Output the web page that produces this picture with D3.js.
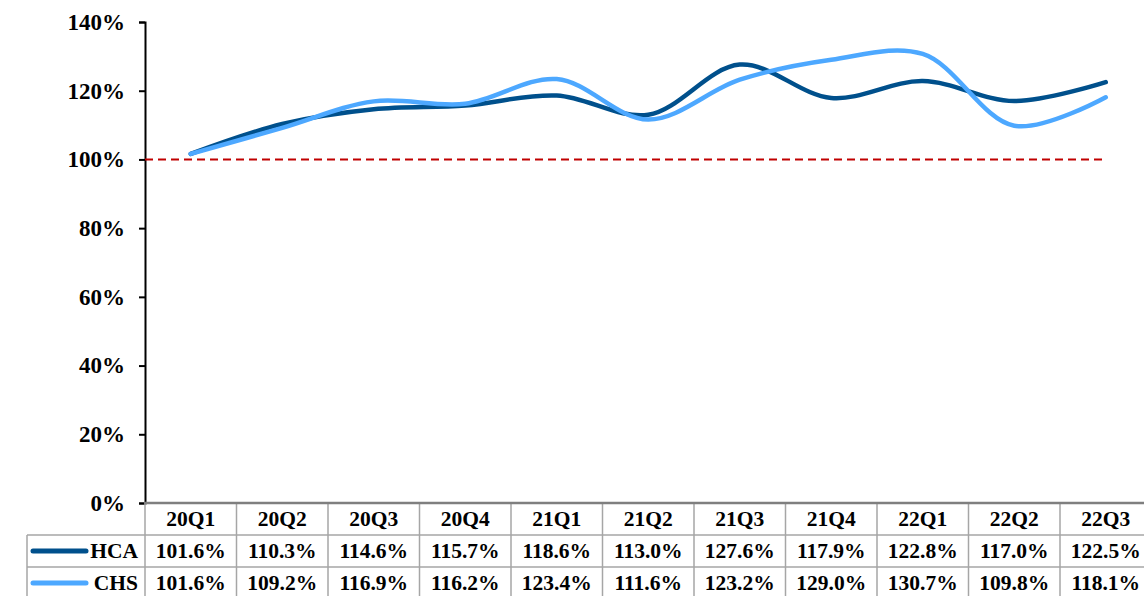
<!DOCTYPE html>
<html><head><meta charset="utf-8">
<script src="https://cdn.jsdelivr.net/npm/d3@7"></script>
<style>
html,body{margin:0;padding:0;background:#fff;}
svg{display:block;font-family:"Liberation Serif","Times New Roman",serif;font-weight:bold;}
</style></head>
<body><svg id="c" width="1144" height="596"></svg>
<script>
const categories = ["20Q1","20Q2","20Q3","20Q4","21Q1","21Q2","21Q3","21Q4","22Q1","22Q2","22Q3"];
const hca = [101.6,110.3,114.6,115.7,118.6,113.0,127.6,117.9,122.8,117.0,122.5];
const chs = [101.6,109.2,116.9,116.2,123.4,111.6,123.2,129.0,130.7,109.8,118.1];
const yTicks = [0,20,40,60,80,100,120,140];
const refValue = 100;
const seriesNames = ["HCA","CHS"];
const seriesColors = ["#00508C","#4DA8FF"];
const seriesData = [hca, chs];

(function(){
const svg = d3.select("#c");
const pLeft = 145, pTop = 22, pBottom = 503, colW = 91.5;
const pRight = pLeft + colW * categories.length;

const x = d3.scaleBand().domain(categories).range([pLeft, pRight]).padding(0);
const y = d3.scaleLinear().domain([0,140]).range([pBottom, pTop]);

const yAxis = d3.axisLeft(y).tickValues(yTicks).tickFormat(d => d + "%").tickSize(6).tickPadding(14);
const ga = svg.append("g").attr("transform", `translate(${pLeft},0)`).call(yAxis);
ga.select(".domain").attr("stroke","#000").attr("stroke-width",2);
ga.selectAll(".tick line").attr("stroke","#000").attr("stroke-width",2);
ga.selectAll(".tick text").attr("font-size",23).attr("font-family","Liberation Serif").attr("font-weight","bold").attr("fill","#000");

svg.append("line")
  .attr("x1", pLeft).attr("x2", x(categories[categories.length-1]) + x.bandwidth()/2)
  .attr("y1", y(refValue)).attr("y2", y(refValue))
  .attr("stroke","#C00000").attr("stroke-width",2).attr("stroke-dasharray","8,5");

const line = d3.line()
  .x((d,i) => x(categories[i]) + x.bandwidth()/2)
  .y(d => y(d))
  .curve(d3.curveCatmullRom.alpha(0.5));
seriesData.forEach((s, k) => {
  svg.append("path").datum(s).attr("d", line)
    .attr("fill","none").attr("stroke", seriesColors[k]).attr("stroke-width",4.5)
    .attr("stroke-linecap","round").attr("stroke-linejoin","round");
});

const rowH = 32, labelLeft = 27;
const rows = [pBottom, pBottom + rowH, pBottom + 2*rowH, pBottom + 3*rowH];
const tg = svg.append("g");
const gridColor = "#A6A6A6";
[1,2,3].forEach(r => {
  tg.append("line").attr("x1",labelLeft).attr("x2",pRight).attr("y1",rows[r]).attr("y2",rows[r]).attr("stroke",gridColor).attr("stroke-width",1.5);
});
categories.forEach((c,i) => {
  tg.append("line").attr("x1", x(c)).attr("x2", x(c)).attr("y1", pBottom).attr("y2", rows[3]).attr("stroke",gridColor).attr("stroke-width",1.5);
});
tg.append("line").attr("x1",pRight).attr("x2",pRight).attr("y1",pBottom).attr("y2",rows[3]).attr("stroke",gridColor).attr("stroke-width",1.5);
tg.append("line").attr("x1",labelLeft).attr("x2",labelLeft).attr("y1",rows[1]).attr("y2",rows[3]).attr("stroke",gridColor).attr("stroke-width",1.5);
tg.append("line").attr("x1",pLeft-1).attr("x2",pRight).attr("y1",pBottom).attr("y2",pBottom).attr("stroke","#7F7F7F").attr("stroke-width",2.5);

tg.selectAll(".hdr").data(categories).enter().append("text")
  .attr("x", d => x(d) + x.bandwidth()/2).attr("y", pBottom + rowH/2 + 7)
  .attr("text-anchor","middle").attr("font-size",21.5).text(d => d);
seriesData.forEach((s,k) => {
  const yy = rows[k+1] + rowH/2 + 7;
  tg.selectAll(".v"+k).data(s).enter().append("text")
    .attr("x", (d,i) => x(categories[i]) + x.bandwidth()/2).attr("y", yy)
    .attr("text-anchor","middle").attr("font-size",21.5).text(d => d.toFixed(1) + "%");
  tg.append("line").attr("x1",33).attr("x2",86).attr("y1",rows[k+1]+rowH/2).attr("y2",rows[k+1]+rowH/2)
    .attr("stroke",seriesColors[k]).attr("stroke-width",5).attr("stroke-linecap","round");
  tg.append("text").attr("x",138).attr("y",yy).attr("text-anchor","end").attr("font-size",21.5).text(seriesNames[k]);
});
})();
</script></body></html>
